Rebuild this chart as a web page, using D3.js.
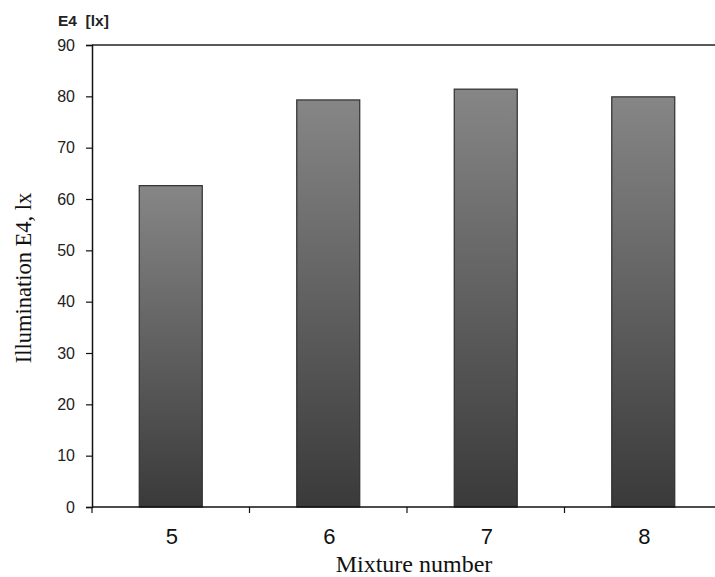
<!DOCTYPE html>
<html>
<head>
<meta charset="utf-8">
<script src="https://cdn.jsdelivr.net/npm/d3@7"></script>
<style>
  html, body { margin: 0; padding: 0; background: #fff; }
  svg { display: block; }
</style>
</head>
<body>
<svg id="chart"></svg>
<script>
// chart values
const mixtures = ['5', '6', '7', '8'];
const illumination = [62.6, 79.3, 81.4, 79.9];
const yTicks = [0, 10, 20, 30, 40, 50, 60, 70, 80, 90];

const W = 715, H = 577;
const plotLeft = 92, plotTop = 45, plotBottom = 507;

const svg = d3.select('#chart').attr('width', W).attr('height', H);

const x = d3.scaleBand()
  .domain(mixtures)
  .range([plotLeft, plotLeft + 630])   // plot runs past the right edge in the original
  .paddingInner(0.6)
  .paddingOuter(0.3);

const y = d3.scaleLinear().domain([0, 90]).range([plotBottom, plotTop]);

// vertical gradient for the bars
const grad = svg.append('defs').append('linearGradient')
  .attr('id', 'barGrad')
  .attr('x1', 0).attr('y1', 0).attr('x2', 0).attr('y2', 1);
grad.append('stop').attr('offset', '0%').attr('stop-color', '#868686');
grad.append('stop').attr('offset', '100%').attr('stop-color', '#3a3a3a');

// top frame line
svg.append('line')
  .attr('x1', plotLeft).attr('x2', W).attr('y1', plotTop).attr('y2', plotTop)
  .attr('stroke', '#222').attr('stroke-width', 1.3);

// bars
svg.append('g').selectAll('rect')
  .data(mixtures.map((m, i) => ({m, v: illumination[i]})))
  .join('rect')
  .attr('x', d => x(d.m))
  .attr('y', d => y(d.v))
  .attr('width', x.bandwidth())
  .attr('height', d => y(0) - y(d.v))
  .attr('fill', 'url(#barGrad)')
  .attr('stroke', '#2e2e2e')
  .attr('stroke-width', 1.2);

// y axis
const yAxis = svg.append('g')
  .attr('transform', `translate(${plotLeft},0)`)
  .call(d3.axisLeft(y).tickValues(yTicks).tickSize(6).tickPadding(11));
yAxis.select('.domain').attr('stroke', '#111').attr('stroke-width', 1.5);
yAxis.selectAll('.tick line').attr('stroke', '#111').attr('stroke-width', 1.2);
yAxis.selectAll('.tick text')
  .attr('font-family', 'Liberation Sans, Arial, sans-serif')
  .attr('font-size', 16).attr('fill', '#222');

// x axis: ticks between categories
const step = x.step();
const xBounds = d3.range(mixtures.length + 1).map(i => plotLeft + i * step);
const xAxis = svg.append('g');
xAxis.append('line')
  .attr('x1', plotLeft).attr('x2', W).attr('y1', plotBottom).attr('y2', plotBottom)
  .attr('stroke', '#111').attr('stroke-width', 1.5);
xAxis.selectAll('line.tk')
  .data(xBounds)
  .join('line')
  .attr('class', 'tk')
  .attr('x1', d => d).attr('x2', d => d)
  .attr('y1', plotBottom).attr('y2', plotBottom + 6)
  .attr('stroke', '#111').attr('stroke-width', 1.2);
xAxis.selectAll('text')
  .data(mixtures)
  .join('text')
  .attr('x', d => x(d) + x.bandwidth() / 2 + 1)
  .attr('y', 544)
  .attr('text-anchor', 'middle')
  .attr('font-family', 'Liberation Sans, Arial, sans-serif')
  .attr('font-size', 22).attr('fill', '#111')
  .text(d => d);

// unit title
svg.append('text')
  .attr('x', 58).attr('y', 26)
  .attr('font-family', 'Liberation Sans, Arial, sans-serif')
  .attr('font-weight', 'bold')
  .attr('font-size', 15.5).attr('fill', '#222')
  .style('white-space', 'pre')
  .text('E4  [lx]');

// axis labels
svg.append('text')
  .attr('transform', 'translate(31,278) rotate(-90)')
  .attr('text-anchor', 'middle')
  .attr('font-family', 'Liberation Serif, Times New Roman, serif')
  .attr('font-size', 22.5).attr('fill', '#111')
  .text('Illumination E4, lx');

svg.append('text')
  .attr('x', 414).attr('y', 572)
  .attr('text-anchor', 'middle')
  .attr('font-family', 'Liberation Serif, Times New Roman, serif')
  .attr('font-size', 24).attr('fill', '#111')
  .text('Mixture number');
</script>
</body>
</html>
